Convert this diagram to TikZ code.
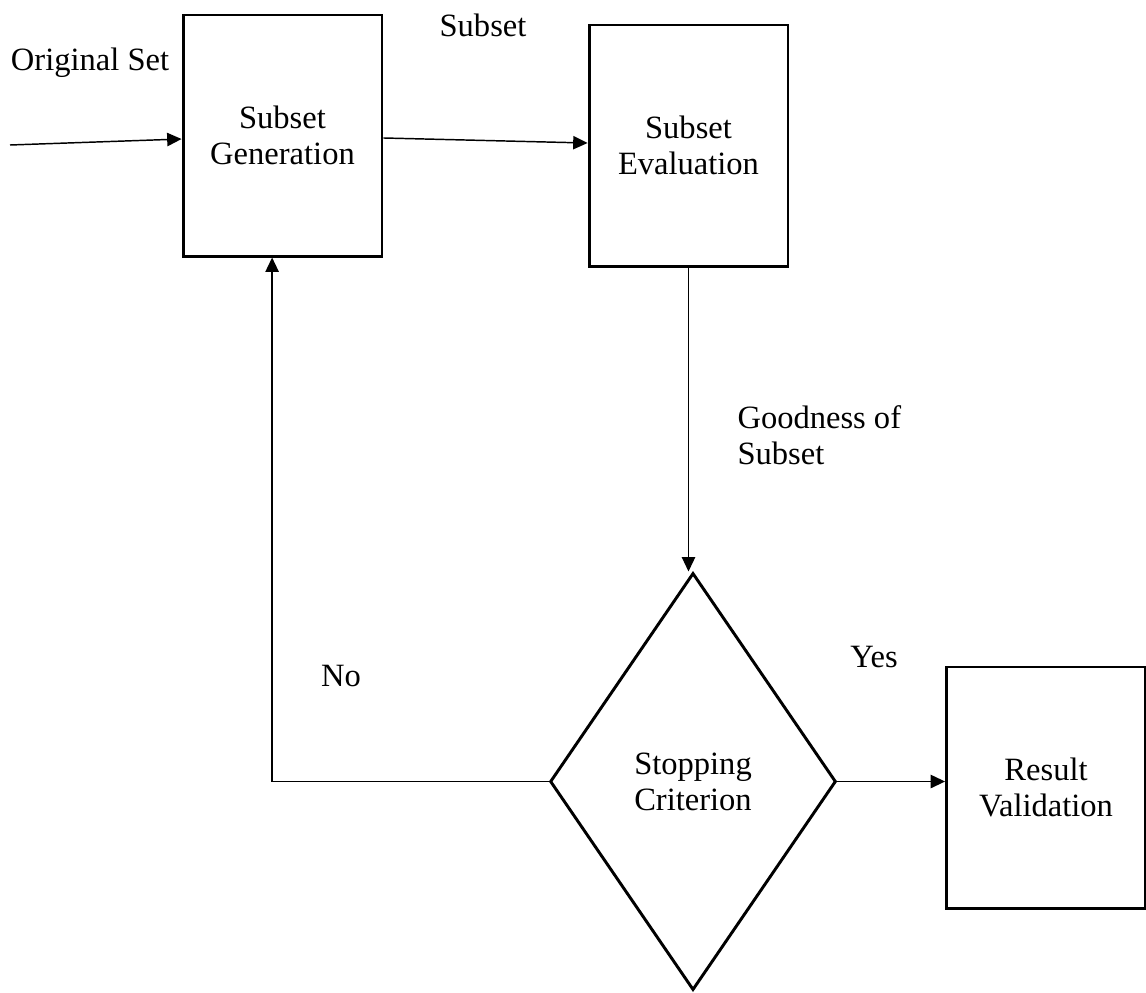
\documentclass[tikz,border=0pt,12pt]{standalone}
\usepackage{fontspec}
\setmainfont{Liberation Serif}
\usetikzlibrary{shapes.geometric,arrows.meta}

\begin{document}
\begin{tikzpicture}[x=0.375pt, y=-0.375pt,
  font=\fontsize{12.2pt}{13.5pt}\selectfont,
  block/.style={rectangle, draw, line width=1.1pt, minimum width=74.6pt, minimum height=90.4pt, align=center},
  decide/.style={diamond, draw, line width=1.1pt, aspect=0.69, minimum width=107.2pt, minimum height=156.4pt, inner sep=0pt, align=center},
  flow/.style={line width=0.55pt, -{Triangle[length=5.4pt, width=5pt]}}]
  \useasboundingbox (0,0) rectangle (1146,992);
  \node[block] (gen) at (282.5,135.5) {Subset\\Generation};
  \node[block] (eval) at (688.5,145.5) {Subset\\Evaluation};
  \node[decide] (crit) at (693,781.5) {Stopping\\Criterion};
  \node[block] (valid) at (1046,787.5) {Result\\Validation};
  \coordinate (inp) at (10,145);
  % labels
  \node (origlbl) at (90,63) {Original Set};
  \node (sublbl) at (483,25) {Subset};
  \node[align=left, anchor=west, inner sep=0pt] (goodlbl) at (737,435) {Goodness of\\Subset};
  \node (yeslbl) at (874,657) {Yes};
  \node (nolbl) at (341,676) {No};
  % connectors
  \draw[flow] (inp) -- (gen);
  \draw[flow] (gen) -- (eval);
  \draw[flow] (eval.south) -- (eval.south |- crit.north);
  \draw[flow] (crit.west) -| ([xshift=-3.9pt]gen.south);
  \draw[flow] (crit.east) -- (crit.east -| valid.west);
\end{tikzpicture}
\end{document}
